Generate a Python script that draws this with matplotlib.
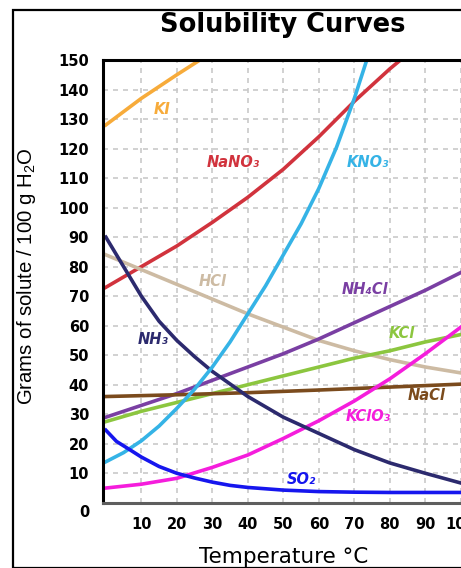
import matplotlib
matplotlib.use("Agg")
import matplotlib.pyplot as plt
from matplotlib import transforms
from matplotlib.patches import Rectangle

# solubility curves (temperature C, grams / 100 g water)
ki_t = [0, 10, 20, 26.5]
ki_g = [128, 137, 145, 150]

nano3_t = [0, 10, 20, 30, 40, 50, 60, 70, 80, 83]
nano3_g = [73, 80, 87, 95, 103.5, 113, 124, 136, 147, 150]

kno3_t = [0, 5, 10, 15, 20, 25, 30, 35, 40, 45, 50, 55, 60, 65, 70, 73.5]
kno3_g = [13.9, 17, 21, 26, 32, 38.5, 46, 54.5, 64, 73.5, 84, 94.5, 106.5, 120.5, 137, 150]

nh3_t = [0, 5, 10, 15, 20, 25, 30, 40, 50, 60, 70, 80, 90, 100]
nh3_g = [90, 80, 70, 61.5, 55, 49.5, 44.5, 36, 29, 23.5, 18, 13.5, 10, 6.7]

hcl_t = [0, 10, 20, 30, 40, 50, 60, 70, 80, 90, 100]
hcl_g = [84, 79, 74, 69, 64, 59.5, 55, 51.5, 48.5, 46, 44]

nh4cl_t = [0, 10, 20, 30, 40, 50, 60, 70, 80, 90, 100]
nh4cl_g = [29, 33, 37, 41.5, 46, 50.5, 55.5, 61, 66.5, 72, 78]

kcl_t = [0, 10, 20, 30, 40, 50, 60, 70, 80, 90, 100]
kcl_g = [27.5, 31, 34, 37, 40, 43, 46, 49, 51.5, 54.5, 57]

nacl_t = [0, 20, 40, 60, 80, 100]
nacl_g = [36, 36.6, 37.3, 38.2, 39.2, 40.2]

kclo3_t = [0, 10, 20, 30, 40, 50, 60, 70, 80, 90, 100]
kclo3_g = [5, 6.3, 8.3, 12, 16.2, 21.8, 27.8, 34.5, 42, 50.5, 59.5]

so2_t = [0, 3, 7, 10, 15, 20, 25, 30, 35, 40, 50, 60, 70, 80, 90, 100]
so2_g = [24.6, 20.8, 17.8, 15.5, 12.3, 10, 8.4, 7, 5.9, 5.2, 4.3, 3.8, 3.6, 3.5, 3.5, 3.5]

y_ticks = list(range(10, 151, 10))
x_ticks = list(range(10, 101, 10))

fig = plt.figure(figsize=(4.61, 5.68), dpi=100)

# outer frame, right side runs off the picture
fig.patches.append(Rectangle((13 / 461, 0.5 / 568), 1.0, 1 - 10.5 / 568,
                             transform=fig.transFigure, fill=False,
                             edgecolor="black", linewidth=1.6))

ax = fig.add_axes([103 / 461, 65.2 / 568, 375.6 / 461, 442.8 / 568])
ax.set_xlim(-0.8, 105)
ax.set_ylim(0, 150)

curves = [
    (ki_t, ki_g, "#f7ab3a"),
    (nano3_t, nano3_g, "#d1333d"),
    (hcl_t, hcl_g, "#cdbba3"),
    (nh4cl_t, nh4cl_g, "#7a3fa3"),
    (kcl_t, kcl_g, "#8cc63f"),
    (nacl_t, nacl_g, "#7b4b1d"),
    (kclo3_t, kclo3_g, "#f51ddc"),
    (nh3_t, nh3_g, "#2c2a6e"),
    (kno3_t, kno3_g, "#35b3e6"),
    (so2_t, so2_g, "#1616ee"),
]
for t, g, c in curves:
    ax.plot(t, g, color=c, linewidth=2.6, solid_joinstyle="round")

# curve names
labels = [
    (15.8, 133.4, "KI", "#f7ab3a"),
    (35.8, 115.2, "NaNO₃", "#d1333d"),
    (73.8, 115.2, "KNO₃", "#35b3e6"),
    (30.1, 75.0, "HCl", "#cdbba3"),
    (73.0, 72.1, "NH₄Cl", "#7a3fa3"),
    (83.3, 57.5, "KCl", "#8cc63f"),
    (13.3, 55.2, "NH₃", "#2c2a6e"),
    (90.3, 36.2, "NaCl", "#7b4b1d"),
    (73.9, 29.2, "KClO₃", "#f51ddc"),
    (55.1, 8.0, "SO₂", "#1616ee"),
]
for x, y, s, c in labels:
    ax.text(x, y, s, color=c, fontsize=10.5, fontweight="bold",
            fontstyle="italic", ha="center", va="center")

ax.set_xticks(x_ticks)
ax.set_yticks(y_ticks)
ax.grid(True, color="#c9c9c9", linestyle=(0, (3, 3)), linewidth=1.2)
ax.set_axisbelow(True)
ax.tick_params(length=0, labelsize=10.5)
ax.tick_params(axis="y", pad=10)
ax.tick_params(axis="x", pad=10)
for lab in ax.get_xticklabels() + ax.get_yticklabels():
    lab.set_fontweight("bold")

# the 0 sits a bit below the axis line
blend = transforms.blended_transform_factory(ax.transAxes, ax.transData)
ax.text(-13.5 / 375.6, -3.4, "0", transform=blend, ha="right", va="center",
        fontsize=10.5, fontweight="bold")

ax.spines["left"].set_linewidth(2.2)
ax.spines["left"].set_color("black")
ax.spines["top"].set_linewidth(2.2)
ax.spines["top"].set_color("black")
ax.spines["bottom"].set_linewidth(2.2)
ax.spines["bottom"].set_color("#5e5e5e")
ax.spines["right"].set_visible(False)

fig.text(283 / 461, 1 - 25 / 568, "Solubility Curves", fontsize=18.5,
         fontweight="bold", ha="center", va="center")
fig.text(284 / 461, 1 - 557 / 568, "Temperature °C", fontsize=15.5,
         ha="center", va="center")
fig.text(26 / 461, 1 - 276 / 568, r"Grams of solute / 100 g H$\mathregular{_2}$O",
         fontsize=14.7, family=["Liberation Sans", "DejaVu Sans"],
         rotation=90, ha="center", va="center")

fig.savefig("out.png", dpi=100)
